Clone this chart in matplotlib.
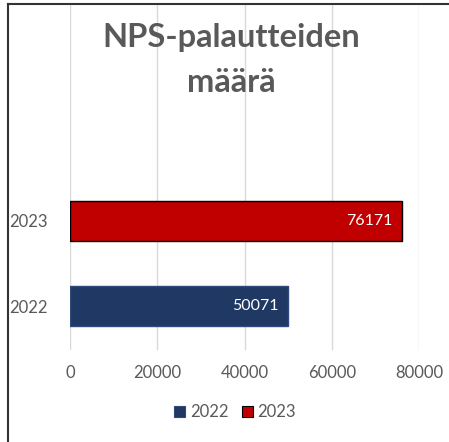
import matplotlib
matplotlib.use("Agg")
import matplotlib.pyplot as plt
from matplotlib.patches import Patch
from matplotlib.lines import Line2D

plt.rcParams['font.family'] = ['Lato', 'DejaVu Sans']

categories = ["2022", "2023"]
values = [50071, 76171]
colors = ["#1F3864", "#C00000"]
edges = ["#2F4A7A", "#000000"]
title_lines = ["NPS-palautteiden", "määrä"]
xticks = [0, 20000, 40000, 60000, 80000]

fig = plt.figure(figsize=(4.49, 4.42), dpi=100)
ax = fig.add_axes([70/449, 1-350/442, 349/449, 345/442])

pos = list(range(len(categories)))
bars = ax.barh(pos, values, height=0.47, color=colors, edgecolor=edges, linewidth=1.0, zorder=3)
for b, v in zip(bars, values):
    ax.text(b.get_width() - 2200, b.get_y() + b.get_height()/2, str(v),
            ha='right', va='center', color='white', fontsize=11.5, zorder=4)

ax.set_xlim(0, 80000)
ax.set_ylim(-0.51, 3.52)
ax.set_xticks(xticks)
ax.set_xticklabels([str(t) for t in xticks])
ax.set_yticks(pos)
ax.set_yticklabels(categories)
ax.tick_params(axis='both', length=0, colors='#595959', labelsize=12)
ax.tick_params(axis='x', pad=11)
ax.tick_params(axis='y', pad=16)
ax.grid(axis='x', color='#D9D9D9', linewidth=1.0, zorder=0)
for s in ax.spines.values():
    s.set_visible(False)

for txt, yb in zip(title_lines, [47, 92]):
    fig.text(231/449, 1-yb/442, txt, ha='center', va='baseline', fontsize=23.5,
             fontweight='bold', color='#595959')

handles = [Patch(facecolor=c, edgecolor=e, linewidth=0.8) for c, e in zip(colors, edges)]
fig.legend(handles, categories, loc='center', bbox_to_anchor=(235/449, 1-412/442),
           ncol=2, frameon=False, fontsize=12, handlelength=0.65, handleheight=0.65,
           handletextpad=0.3, columnspacing=0.8, labelcolor='#595959')

fig.add_artist(Line2D([8/449, 1], [1-4/442, 1-4/442], color='#333333', linewidth=1.5, transform=fig.transFigure))
fig.add_artist(Line2D([8/449, 8/449], [1-4/442, 0], color='#333333', linewidth=1.5, transform=fig.transFigure))

fig.savefig("out.png", dpi=100)
